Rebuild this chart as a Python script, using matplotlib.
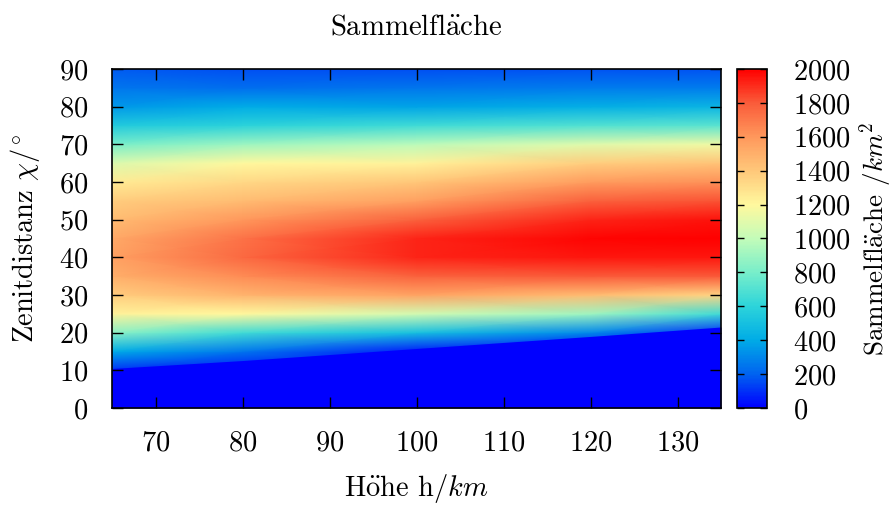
import numpy as np
import matplotlib
matplotlib.use("Agg")
import matplotlib.pyplot as plt
from matplotlib.colors import LinearSegmentedColormap

# Look like a LaTeX / gnuplot figure
plt.rcParams["font.family"] = "serif"
plt.rcParams["font.serif"] = ["cmr10"]
plt.rcParams["mathtext.fontset"] = "cm"
plt.rcParams["axes.formatter.use_mathtext"] = True
plt.rcParams["font.size"] = 20.5

# Höhe (km) columns and zenith distance (deg) rows
heights = [65, 80, 100, 120, 135]
angles = [0, 5, 10, 15, 20, 25, 30, 35, 40, 45, 50, 55, 60, 65, 70, 75, 80, 85, 90]

# Sammelfläche in km^2, one list per height (from 0 to 90 deg)
area_h65 = [0, 0, 100, 400, 850, 1220, 1380, 1500, 1560, 1530, 1450, 1380, 1250, 1080, 800, 550, 350, 250, 180]
area_h80 = [0, 0, 40, 250, 650, 1200, 1480, 1640, 1750, 1720, 1600, 1450, 1330, 1200, 900, 600, 400, 230, 160]
area_h100 = [0, 0, 0, 60, 500, 1050, 1550, 1780, 1920, 1920, 1780, 1570, 1400, 1220, 980, 650, 380, 250, 160]
area_h120 = [0, 0, 0, 0, 300, 900, 1450, 1800, 1950, 1990, 1920, 1780, 1580, 1380, 1100, 700, 420, 270, 170]
area_h135 = [0, 0, 0, 0, 100, 650, 1350, 1800, 1950, 2000, 1960, 1820, 1620, 1420, 1150, 720, 450, 270, 170]

# lower edge of the visible region (deg), below it the area is zero
cutoff_heights = [65, 80, 100, 120, 135]
cutoff_angles = [10.5, 12.6, 15.8, 19.0, 21.5]

palette = [(0, 0, 255), (0, 100, 240), (0, 172, 230), (45, 212, 218),
           (120, 238, 202), (195, 252, 185), (255, 248, 158), (255, 200, 122),
           (255, 152, 92), (250, 92, 58), (255, 0, 0)]
cmap = LinearSegmentedColormap.from_list("sammel", [tuple(c / 255 for c in p) for p in palette])

values = np.array([area_h65, area_h80, area_h100, area_h120, area_h135]).T

fig = plt.figure(figsize=(8.96, 5.05), dpi=100)
ax = fig.add_axes([112 / 896, 97 / 505, 609 / 896, 339 / 505])
cax = fig.add_axes([737 / 896, 97 / 505, 30 / 896, 339 / 505])

mesh = ax.pcolormesh(heights, angles, values, shading="gouraud", cmap=cmap, vmin=0, vmax=2000)
ax.fill_between(cutoff_heights, 0, cutoff_angles, color=cmap(0.0), linewidth=0)

ax.set_xlim(65, 135)
ax.set_ylim(0, 90)
ax.set_xticks(range(70, 131, 10))
ax.set_yticks(range(0, 91, 10))
ax.tick_params(direction="in", top=True, right=True, length=8, width=1.0, pad=16, colors="black")
ax.tick_params(axis="y", pad=17)
for s in ax.spines.values():
    s.set_linewidth(1.2)

ax.set_title(r"Sammelfl$\ddot{\mathrm{a}}$che", pad=25, fontsize=20.7)
ax.set_xlabel(r"H$\ddot{\mathrm{o}}$he h/$km$", labelpad=11)
ax.set_ylabel(r"Zenitdistanz $\chi/^{\circ}$", labelpad=12)

cb = fig.colorbar(mesh, cax=cax)
cb.set_ticks(range(0, 2001, 200))
cax.tick_params(direction="in", left=True, right=True, length=5, width=1.0, pad=19)
cb.outline.set_linewidth(1.2)
cb.set_label(r"Sammelfl$\ddot{\mathrm{a}}$che /$km^2$", labelpad=4, fontsize=19.5)

fig.savefig("out.png", dpi=100)
